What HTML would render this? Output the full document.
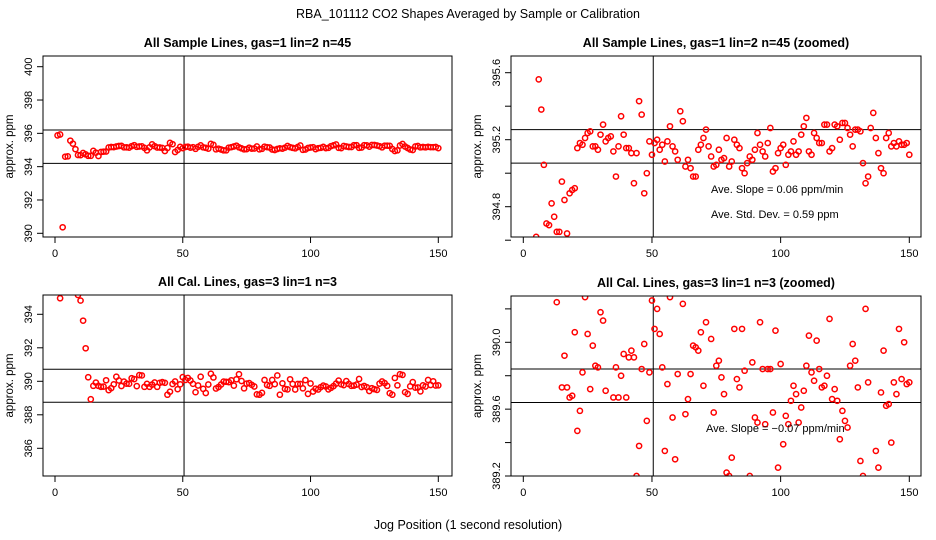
<!DOCTYPE html>
<html><head><meta charset="utf-8"><style>
html,body{margin:0;padding:0;background:#fff;width:936px;height:540px;overflow:hidden;}
svg{display:block;font-family:"Liberation Sans",sans-serif;}
</style></head><body>
<svg id="chart" width="936" height="540" viewBox="0 0 936 540">
<text x="468" y="18" text-anchor="middle" font-size="12.5">RBA_101112  CO2 Shapes Averaged by Sample or Calibration</text>
<text x="468" y="529" text-anchor="middle" font-size="12.5">Jog Position (1 second resolution)</text>
</svg>
<script>
const sampleValues=[395.88,395.93,390.36,394.6,394.62,395.56,395.38,395.05,394.70,394.69,394.82,394.74,394.65,394.65,394.95,394.84,394.64,394.88,394.90,394.91,395.15,395.18,395.17,395.21,395.24,395.25,395.16,395.16,395.14,395.23,395.29,395.19,395.21,395.22,395.13,394.98,395.16,395.34,395.23,395.15,395.15,395.12,394.94,395.12,395.43,395.35,394.88,395.00,395.19,395.11,395.18,395.20,395.14,395.17,395.07,395.19,395.28,395.16,395.13,395.08,395.37,395.31,395.04,395.08,395.03,394.98,394.98,395.14,395.17,395.21,395.26,395.16,395.10,395.04,395.05,395.14,395.08,395.09,395.21,395.04,395.07,395.20,395.17,395.15,395.03,395.00,395.06,395.10,395.08,395.14,395.24,395.17,395.13,395.10,395.18,395.27,395.01,395.03,395.12,395.15,395.17,395.05,395.11,395.13,395.19,395.11,395.13,395.23,395.28,395.33,395.13,395.11,395.24,395.21,395.18,395.18,395.29,395.29,395.13,395.15,395.29,395.28,395.20,395.30,395.30,395.27,395.23,395.16,395.26,395.26,395.25,395.06,394.94,394.98,395.27,395.36,395.21,395.12,395.03,395.00,395.21,395.24,395.16,395.18,395.16,395.19,395.17,395.17,395.18,395.11];
const calValues=[396.0,394.96,396.5,397.0,397.0,396.8,396.5,395.8,395.15,394.82,393.62,391.97,390.24,388.93,389.73,389.92,389.73,389.67,389.68,390.06,389.47,389.59,389.82,390.27,390.05,389.72,389.98,389.86,389.85,390.18,390.13,389.71,390.37,390.35,389.67,389.85,389.67,389.80,389.93,389.67,389.91,389.95,389.91,389.20,389.38,389.84,389.99,389.53,389.82,390.25,390.08,390.20,390.05,389.85,389.35,389.75,390.27,389.55,389.30,389.81,390.45,390.23,389.57,389.66,389.81,389.98,389.97,389.95,390.06,389.74,390.12,390.42,390.02,389.58,389.86,389.89,389.79,389.69,389.22,389.20,389.31,390.08,389.78,389.73,390.08,389.83,390.35,389.20,389.88,389.55,389.52,390.12,389.84,389.51,389.84,389.84,389.58,390.07,389.25,389.87,389.39,389.56,389.51,389.65,389.74,389.69,389.52,389.61,389.71,389.86,390.04,389.82,389.77,390.01,389.84,389.73,389.74,389.80,390.14,389.66,389.72,389.65,389.42,389.59,389.53,389.49,389.86,389.99,389.89,389.73,389.29,389.20,390.20,389.76,390.42,390.38,389.35,389.25,389.70,389.95,389.62,389.63,389.40,389.76,389.69,390.08,389.78,390.00,389.75,389.76];
const xTicks=[0,50,100,150];
const yTicksFull1=[390,392,394,396,398,400];
const yTicksZoom1=[394.6,394.8,395.0,395.2,395.4,395.6];
const yTicksFull2=[386,388,390,392,394];
const yTicksZoom2=[389.2,389.4,389.6,389.8,390.0,390.2];
const hLines1=[394.2,396.2], hLines1z=[395.06,395.26];
const hLines2=[388.75,390.72], hLines2z=[389.64,389.84];
const vLine=50.5;

const NS='http://www.w3.org/2000/svg';
const svg=document.getElementById('chart');
function mk(tag,attrs,parent){const e=document.createElementNS(NS,tag);for(const k in attrs)e.setAttribute(k,attrs[k]);(parent||svg).appendChild(e);return e;}

const panels=[
 {key:'sample-full',title:'All Sample Lines, gas=1 lin=2 n=45',box:[43,56,452,237],x0:55,x150:438.3,yA:[400,66.7],yB:[390,233.3],ticks:yTicksFull1,labels:yTicksFull1,fmt:v=>String(v),data:sampleValues,h:hLines1},
 {key:'sample-zoom',title:'All Sample Lines, gas=1 lin=2 n=45 (zoomed)',box:[511,56,921,237],x0:523.3,x150:909.3,yA:[395.6,72.7],yB:[394.8,206.7],ticks:yTicksZoom1,labels:[394.8,395.2,395.6],fmt:v=>v.toFixed(1),data:sampleValues,h:hLines1z,notes:['Ave. Slope =  0.06  ppm/min','Ave. Std. Dev. =  0.59  ppm']},
 {key:'cal-full',title:'All Cal. Lines, gas=3 lin=1 n=3',box:[43,295,452,476],x0:55,x150:438.3,yA:[394,314.3],yB:[386,448.3],ticks:yTicksFull2,labels:yTicksFull2,fmt:v=>String(v),data:calValues,h:hLines2},
 {key:'cal-zoom',title:'All Cal. Lines, gas=3 lin=1 n=3 (zoomed)',box:[511,296,921,476],x0:523.3,x150:909.3,yA:[390.0,342.3],yB:[389.2,476],ticks:yTicksZoom2,labels:[389.2,389.6,390.0],fmt:v=>v.toFixed(1),data:calValues,h:hLines2z,notes:['Ave. Slope = \u22120.07  ppm/min']}
];

panels.forEach((p,pi)=>{
 const g=mk('g',{});
 
 
 const [bx0,by0,bx1,by1]=p.box;
 const xs=v=>p.x0+(v-0)*(p.x150-p.x0)/150;
 const ys=v=>p.yA[1]+(v-p.yA[0])*(p.yB[1]-p.yA[1])/(p.yB[0]-p.yA[0]);
 const cp=mk('clipPath',{id:'clip'+pi},g);
 mk('rect',{x:bx0,y:by0,width:bx1-bx0,height:by1-by0},cp);
 const t=mk('text',{x:(bx0+bx1)/2,y:by0-9,'text-anchor':'middle','font-size':'12.5','font-weight':'bold'},g);
 t.textContent=p.title;
 
 
 xTicks.forEach(v=>{
  const x=xs(v);
  mk('line',{x1:x,y1:by1,x2:x,y2:by1+6,stroke:'#000'},g);
  const tl=mk('text',{x:x,y:by1+20,'text-anchor':'middle','font-size':'11'},g);
  tl.textContent=v;
  
  
 });
 p.ticks.forEach(v=>{
  const y=ys(v);
  mk('line',{x1:bx0-6,y1:y,x2:bx0,y2:y,stroke:'#000'},g);
 });
 p.labels.forEach(v=>{
  const y=ys(v);
  const tl=mk('text',{x:0,y:0,'text-anchor':'middle','font-size':'11',transform:`translate(${bx0-11},${y}) rotate(-90)`},g);
  tl.textContent=p.fmt(v);
  
  
 });
 const yl=mk('text',{x:0,y:0,'text-anchor':'middle','font-size':'11.5',transform:`translate(${bx0-30},${(by0+by1)/2}) rotate(-90)`},g);
 yl.textContent='approx. ppm';
 
 
 p.h.forEach(v=>{
  const l=mk('line',{x1:bx0,x2:bx1,y1:ys(v),y2:ys(v),stroke:'#000'},g);
  
  
 });
 const vl=mk('line',{x1:xs(vLine),x2:xs(vLine),y1:by0,y2:by1,stroke:'#000'},g);
 
 
 const pg=mk('g',{'clip-path':`url(#clip${pi})`},g);
 p.data.forEach((v,i)=>{
  const cx=xs(i+1), cy=ys(v);
  if(cy<by0-3||cy>by1+3) return;
  const c=mk('circle',{cx:cx,cy:cy,r:2.6,fill:'none',stroke:'#ff0000','stroke-width':1.5},pg);
  
  
 });
 (p.notes||[]).forEach((n,k)=>{
  const tn=mk('text',{x:p.key==='cal-zoom'?706:711,y:p.key==='cal-zoom'?432:193+k*25,'font-size':'11'},g);
  tn.textContent=n;
  
  
 });
 const fr=mk('rect',{x:bx0,y:by0,width:bx1-bx0,height:by1-by0,fill:'none',stroke:'#000'},g);
 
 
});
</script>
</body></html>
